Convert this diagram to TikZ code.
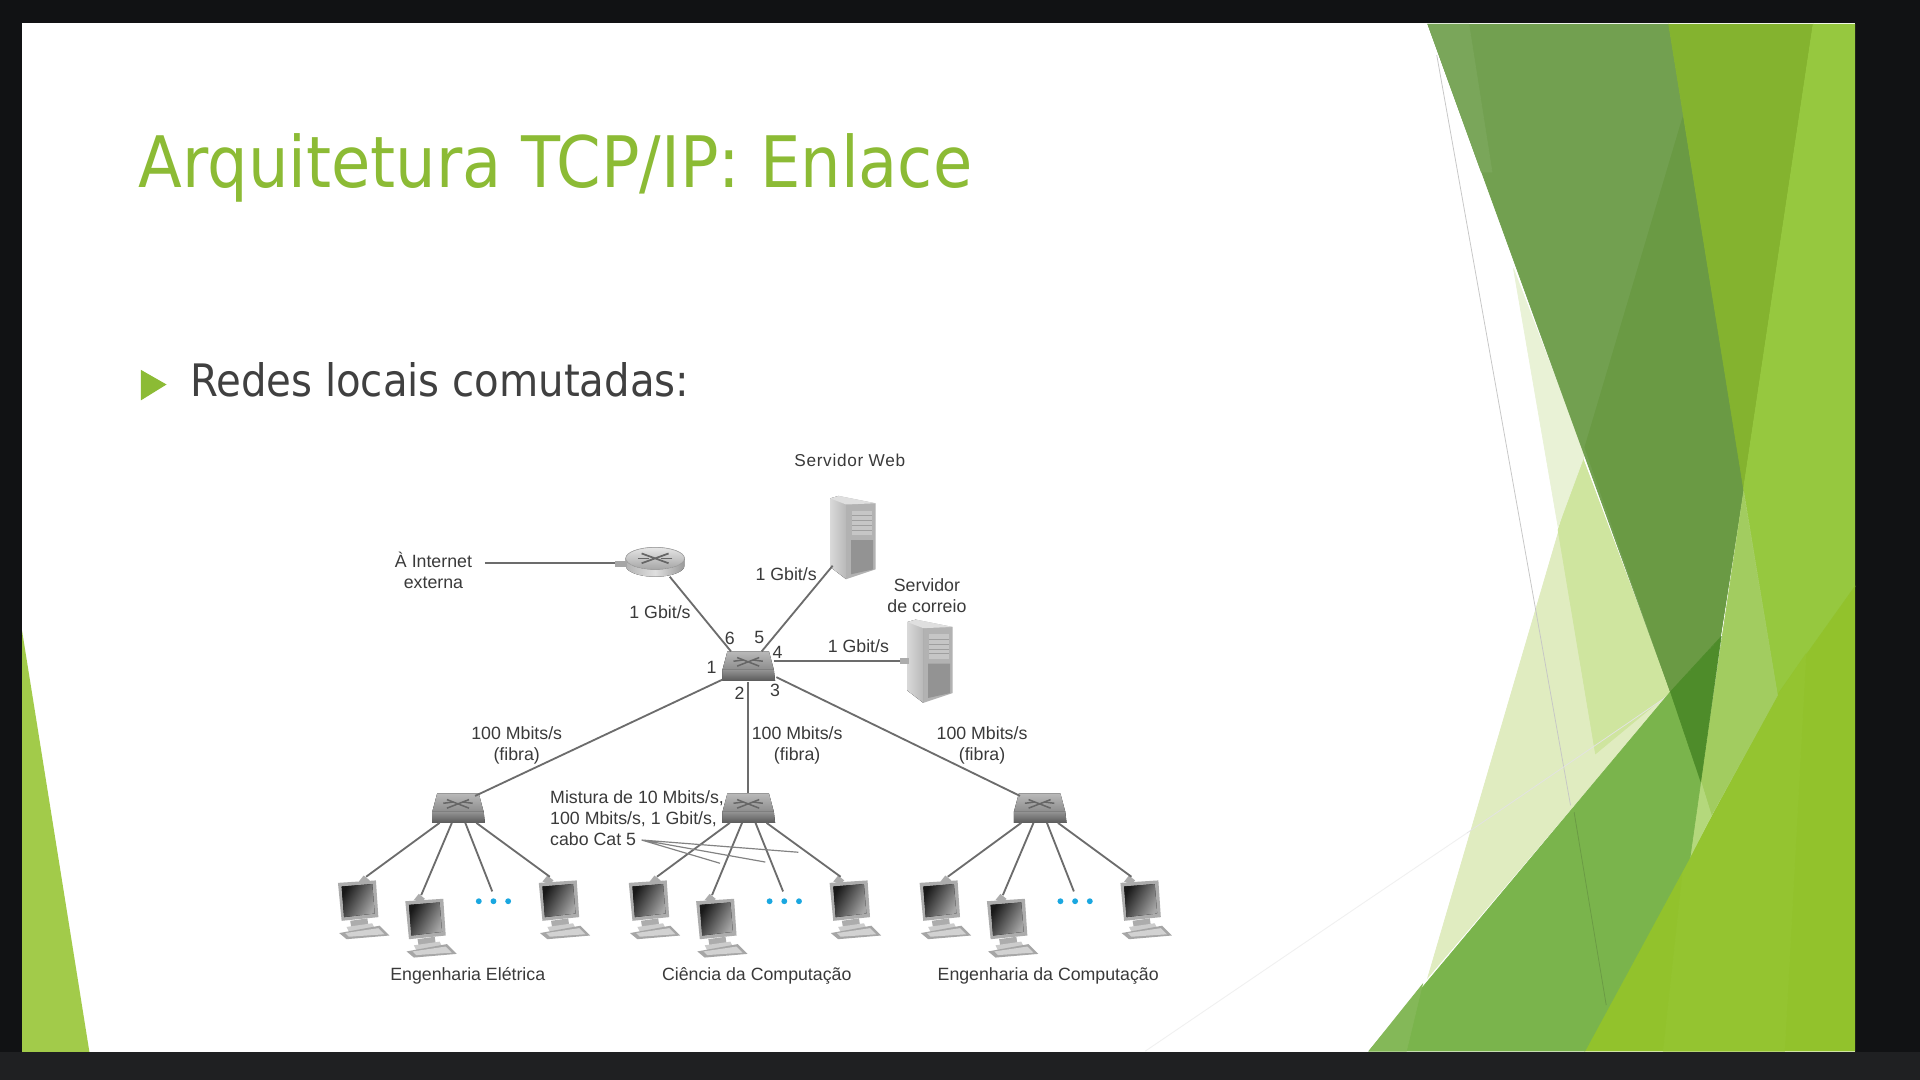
\documentclass[tikz,border=0pt]{standalone}
\usepackage{fontspec}
\setmainfont{Liberation Sans}
\newfontfamily\slidefont{DejaVu Sans Condensed}
\usetikzlibrary{calc}
\definecolor{titlegreen}{HTML}{8CBB35}
\definecolor{bodygray}{HTML}{404040}
\definecolor{wire}{HTML}{6C6C6C}
\definecolor{dotblue}{HTML}{1AA7E0}
\definecolor{labelgray}{HTML}{3A3A3A}
\definecolor{screenblack}{HTML}{111214}
\definecolor{stripdark}{HTML}{1F2022}
\definecolor{gG}{HTML}{E0ECC0}
\definecolor{gH}{HTML}{CFE59F}
\definecolor{gI}{HTML}{E9F2D6}
\definecolor{gA}{HTML}{72A050}
\definecolor{gAl}{HTML}{7AA65A}
\definecolor{gAd}{HTML}{6A9A44}
\definecolor{gB}{HTML}{84B32F}
\definecolor{gC}{HTML}{96C83F}
\definecolor{gD}{HTML}{92C22C}
\definecolor{gDl}{HTML}{94C430}
\definecolor{gE}{HTML}{A2CC60}
\definecolor{gEl}{HTML}{B4D87C}
\definecolor{gF}{HTML}{7AB44C}
\definecolor{gFl}{HTML}{84B858}
\definecolor{gT}{HTML}{4E8C2A}
\definecolor{gL}{HTML}{A2CB4A}
\tikzset{
  wirelink/.style={draw=wire,line width=0.85pt},
  thinwire/.style={draw=wire!85,line width=0.55pt},
  lab/.style={font=\fontsize{8.25}{9.7}\selectfont,text=labelgray,inner sep=0pt,align=center},
  poly/.style={fill=#1,draw=#1,line width=0.3pt},
  pics/netswitch/.style={code={
    \fill[top color=gray!55,bottom color=gray!90] (-17,-12) -- (17,-12) -- (21,3) -- (-21,3) -- cycle;
    \fill[top color=gray!85,bottom color=black!65] (-21,3) -- (21,3) -- (22,12) -- (-21,12) -- cycle;
    \draw[black!60,line width=0.7pt] (-9,-7) -- (9,0) (9,-7) -- (-9,0);
    \draw[black!60,line width=0.7pt] (-12,-4) -- (-4,-5) (12,-4) -- (4,-5);
    \coordinate (-nw) at (-14,-12); \coordinate (-ne) at (11,-12);
    \coordinate (-tl) at (-16,-10); \coordinate (-tm) at (0,-12); \coordinate (-tr) at (14,-10);
    \coordinate (-e) at (21,-4);
    \coordinate (-sw) at (-21,11); \coordinate (-s) at (0,13); \coordinate (-se) at (23,9);
    \coordinate (-a) at (-15,12); \coordinate (-b) at (-5,12); \coordinate (-c) at (6,12); \coordinate (-d) at (15,12);
  }},
  pics/netrouter/.style={code={
    \fill[left color=gray!60,right color=gray!80,middle color=gray!25] (-24,-2) -- (-24,4) arc[start angle=180,end angle=360,x radius=24,y radius=-9] -- (24,-2) -- cycle;
    \fill[bottom color=gray!70,top color=gray!20,draw=gray!70,line width=0.3pt] (0,-2) ellipse[x radius=24,y radius=9];
    \draw[black!60,line width=0.8pt] (-11,-6) -- (11,2) (11,-6) -- (-11,2);
    \draw[black!60,line width=0.8pt] (-14,-2) -- (-5,-2) (14,-2) -- (5,-2);
    \fill[gray!70] (-33,0) rectangle (-23,5);
    \coordinate (-w) at (-33,2); \coordinate (-s) at (12,13);
  }},
  pics/netserver/.style={code={
    \fill[left color=gray!30,right color=gray!55] (0,2) -- (7,0) -- (13,7) -- (13,68) -- (0,58) -- cycle;
    \fill[gray!60] (7,0) -- (37,6) -- (37,60) -- (13,68) -- (13,7) -- cycle;
    \fill[gray!25] (0,2) -- (7,0) -- (37,6) -- (13,7) -- cycle;
    \fill[gray!45] (18,12) -- (34,12) -- (34,32) -- (18,32) -- cycle;
    \draw[gray!75,line width=0.4pt] (18,16) -- (34,16) (18,20) -- (34,20) (18,24) -- (34,24) (18,28) -- (34,28);
    \fill[gray!85] (17,36) -- (35,36) -- (35,60) -- (17,64) -- cycle;
    \coordinate (-l) at (2,57); \coordinate (-m) at (-6,34);
  }},
  pics/netpc/.style={code={
    \fill[gray!65] (#1-2,-5) -- (#1+3,-1) -- (#1,2) -- (#1-6,0) -- cycle;
    \fill[gray!65] (-1,1) -- (30,-1) -- (32,29) -- (2,32) -- cycle;
    \fill[left color=black!90,right color=black!35,shading angle=60] (2,4) -- (27,2) -- (29,26) -- (4,29) -- cycle;
    \fill[gray!65] (9,32) -- (23,30) -- (24,37) -- (10,38) -- cycle;
    \fill[gray!40] (6,37) -- (27,34) -- (29,38) -- (8,41) -- cycle;
    \fill[gray!70] (0,42) -- (33,36) -- (41,44) -- (6,47) -- cycle;
    \fill[gray!35] (5,42) -- (32,38) -- (37,43) -- (8,45) -- cycle;
    \coordinate (-p) at (#1,-4);
  }},
  pics/netdots/.style={code={
    \fill[dotblue] (-12,0) circle[radius=2.4] (0,0) circle[radius=2.4] (12,0) circle[radius=2.4];
    \coordinate (-p) at (-1,-8);
  }},
}
\begin{document}
\begin{tikzpicture}[x=0.02cm,y=-0.02cm]
\useasboundingbox (0,0) rectangle (1568,882);
\fill[screenblack] (0,0) rectangle (1568,882);
\fill[stripdark] (0,859) rectangle (1568,882);
\fill[white] (18,19) rectangle (1515,859);
\fill[gL] (18,515) -- (73,859) -- (18,859) -- cycle;
\begin{scope}
\clip (18,19) rectangle (1515,859);
\begin{scope}[shift={(1110.7,0)},x=0.005833cm,y=-0.01125cm]
\draw[gray!12,line width=0.4pt] (-602,1527) -- (0,1315) -- (300,1210);
\filldraw[poly=gG] (620,660) -- (190,1420) -- (870,1005) -- cycle;
\filldraw[poly=gH] (620,660) -- (555,770) -- (660,1095) -- (870,1005) -- cycle;
\filldraw[poly=gI] (430,390) -- (630,660) -- (555,765) -- cycle;
\draw[gray!45,line width=0.35pt] (215,80) -- (590,1170);
\draw[gray!22,line width=0.35pt] (300,1210) -- (865,1010);
\filldraw[poly=gA] (190,35) -- (865,35) -- (1075,710) -- (1010,925) -- (870,1005) -- cycle;
\filldraw[poly=gAl] (190,35) -- (305,35) -- (370,250) -- (340,250) -- cycle;
\filldraw[poly=gAd] (905,170) -- (1075,710) -- (1010,925) -- (870,1005) -- (630,650) -- cycle;
\filldraw[poly=gB] (865,35) -- (1270,35) -- (1075,710) -- cycle;
\filldraw[poly=gC] (1270,35) -- (1390,35) -- (1390,850) -- (1170,1010) -- (1075,710) -- cycle;
\filldraw[poly=gD] (1390,850) -- (1170,1010) -- (925,1245) -- (630,1527) -- (1390,1527) -- cycle;
\filldraw[poly=gDl] (850,1527) -- (905,1265) -- (1170,1010) -- (1250,950) -- (1190,1527) -- cycle;
\filldraw[poly=gE] (1075,715) -- (1170,1010) -- (985,1185) -- (955,1135) -- cycle;
\filldraw[poly=gEl] (955,1135) -- (985,1185) -- (925,1245) -- cycle;
\filldraw[poly=gF] (25,1527) -- (630,1527) -- (925,1245) -- (955,1135) -- (870,1005) -- cycle;
\filldraw[poly=gT] (870,1005) -- (1012,925) -- (955,1135) -- cycle;
\filldraw[poly=gFl] (25,1527) -- (130,1527) -- (175,1430) -- cycle;
\draw[gAd,line width=0.35pt] (600,1180) -- (690,1460);
\end{scope}
\end{scope}
\node[anchor=base west,inner sep=0pt,text=titlegreen,font=\slidefont\fontsize{33}{40}\selectfont] (title) at (113,153) {Arquitetura TCP/IP: Enlace};
\fill[titlegreen] (115,302) -- (136,314) -- (115,327) -- cycle;
\node[anchor=base west,inner sep=0pt,text=bodygray,font=\slidefont\fontsize{20.8}{25}\selectfont] (body) at (155,324) {Redes locais comutadas:};
\pic (rt) at (535,458) {netrouter};
\pic (sw0) at (611,544) {netswitch};
\pic (sw1) at (374,660) {netswitch};
\pic (sw2) at (611,660) {netswitch};
\pic (sw3) at (849,660) {netswitch};
\pic (web) at (678,405) {netserver};
\pic (mail) at (741,506) {netserver};
\fill[gray!65] ($(mail-m)+(0,-2.5)$) rectangle ($(mail-m)+(7,2.5)$);
\foreach \g/\dx in {1/0,2/237.5,3/475}{
  \pic (pc\g a) at (277+\dx,720) {netpc=22};
  \pic (pc\g b) at (332+\dx,735) {netpc=12};
  \pic (dots\g) at (403+\dx,736) {netdots};
  \pic (pc\g d) at (441+\dx,720) {netpc=8};
  \draw[wirelink] (sw\g-a) -- (pc\g a-p);
  \draw[wirelink] (sw\g-b) -- (pc\g b-p);
  \draw[wirelink] (sw\g-c) -- (dots\g-p);
  \draw[wirelink] (sw\g-d) -- (pc\g d-p);
}
\coordinate (ext) at (396,460);
\draw[wirelink] (ext) -- (rt-w);
\draw[wirelink] (rt-s) -- (sw0-nw);
\draw[wirelink] (web-l) -- (sw0-ne);
\draw[wirelink] (sw0-e) -- (mail-m);
\draw[wirelink] (sw0-sw) -- (sw1-tr);
\draw[wirelink] (sw0-s) -- (sw2-tm);
\draw[wirelink] (sw0-se) -- (sw3-tl);
\coordinate (mixo) at (524,686);
\coordinate (mixa) at (588,705);
\coordinate (mixb) at (625,704);
\coordinate (mixc) at (652,696);
\draw[thinwire] (mixo) -- (mixa) (mixo) -- (mixb) (mixo) -- (mixc);
\node[lab,font=\fontsize{8}{9.7}\selectfont\addfontfeatures{LetterSpace=4}] (lweb) at (694,376) {Servidor Web};
\node[lab] (lext) at (354,466) {À Internet\\externa};
\node[lab] (lmail) at (757,486.5) {Servidor\\de correio};
\node[lab] (g1) at (539,500) {1 Gbit/s};
\node[lab] (g2) at (642,469) {1 Gbit/s};
\node[lab] (g3) at (701,528) {1 Gbit/s};
\node[lab] (n6) at (596,521) {6};
\node[lab] (n5) at (620,521) {5};
\node[lab] (n4) at (635,533) {4};
\node[lab] (n1) at (581,545) {1};
\node[lab] (n2) at (604,566) {2};
\node[lab] (n3) at (633,564) {3};
\node[lab] (f1) at (422,608.5) {100 Mbits/s\\(fibra)};
\node[lab] (f2) at (651,608.5) {100 Mbits/s\\(fibra)};
\node[lab] (f3) at (802,608.5) {100 Mbits/s\\(fibra)};
\node[lab,align=left,anchor=west] (mix) at (449,668) {Mistura de 10 Mbits/s,\\100 Mbits/s, 1 Gbit/s,\\cabo Cat 5};
\node[lab] (d1) at (382,797) {Engenharia Elétrica};
\node[lab] (d2) at (618,797) {Ciência da Computação};
\node[lab] (d3) at (856,797) {Engenharia da Computação};
\end{tikzpicture}
\end{document}
